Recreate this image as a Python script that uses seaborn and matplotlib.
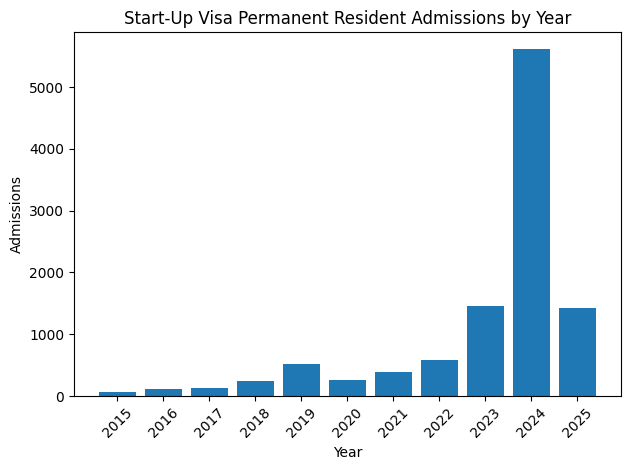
import seaborn as sns
import matplotlib.pyplot as plt
import pandas as pd

years = ['2015', '2016', '2017', '2018', '2019', '2020', '2021', '2022', '2023', '2024', '2025']
admissions = [65, 113, 130, 243, 519, 259, 389, 583, 1459, 5612, 1426]

df = pd.DataFrame({'Year': years, 'Admissions': admissions})

fig, ax = plt.subplots(figsize=(6.3, 4.7), dpi=100)
sns.barplot(data=df, x='Year', y='Admissions', color='#1f77b4', saturation=1, width=0.8, ax=ax)
ax.set_title('Start-Up Visa Permanent Resident Admissions by Year')
ax.set_xlabel('Year')
ax.set_ylabel('Admissions')
ax.tick_params(axis='x', rotation=45)
# same padding as plain plt.bar (5% margin)
ax.set_xlim(-0.94, 10.94)
fig.subplots_adjust(left=0.1175, right=0.985, top=0.932, bottom=0.1574)
fig.savefig('out.png')
